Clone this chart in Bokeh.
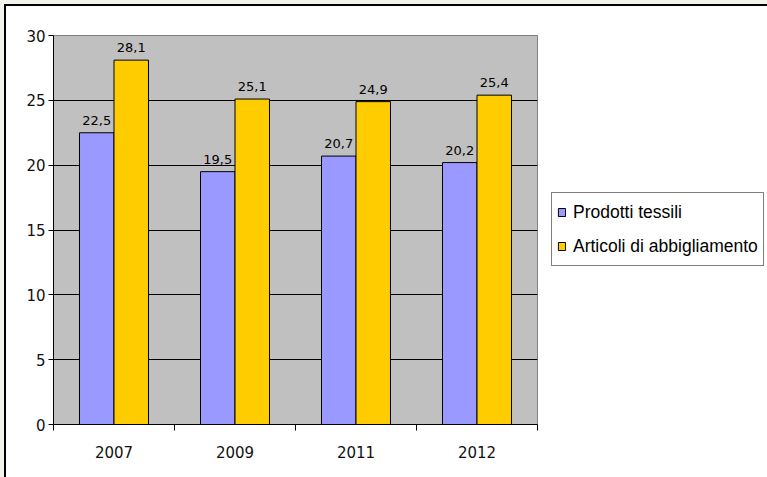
from bokeh.plotting import figure
from bokeh.models import (ColumnDataSource, FixedTicker, LabelSet, Legend, LegendItem,
                          Range1d, Column, Row)
from bokeh.core.properties import value
from bokeh.embed import file_html
from bokeh.resources import INLINE

# ---- data ----
years = ["2007", "2009", "2011", "2012"]
tessili = [22.5, 19.5, 20.7, 20.2]
abbigliamento = [28.1, 25.1, 24.9, 25.4]
series_names = ["Prodotti tessili", "Articoli di abbigliamento"]
y_ticks = [0, 5, 10, 15, 20, 25, 30]

BLUE = "#9999FF"
YELLOW = "#FFCC00"
BAR_W = 0.285
OFF = 0.1425

centers = [i + 0.5 for i in range(len(years))]
bounds = list(range(len(years) + 1))

def fmt(v):
    return f"{v:.1f}".replace(".", ",")

src_a = ColumnDataSource(dict(x=[c - OFF for c in centers], top=tessili,
                              lab=[fmt(v) for v in tessili]))
src_b = ColumnDataSource(dict(x=[c + OFF for c in centers], top=abbigliamento,
                              lab=[fmt(v) for v in abbigliamento]))

H = 471
p = figure(width=532, height=H, output_backend="svg", toolbar_location=None,
           x_range=Range1d(0, len(years)), y_range=Range1d(0, 30),
           min_border_left=47, min_border_top=29, min_border_right=1,
           min_border_bottom=53, background_fill_color="#C0C0C0",
           border_fill_color="white", outline_line_color="#808080",
           outline_line_width=1)
p.frame_align = False

r1 = p.vbar(x="x", top="top", width=BAR_W, bottom=0, source=src_a,
            fill_color=BLUE, line_color="black", line_width=1)
r2 = p.vbar(x="x", top="top", width=BAR_W, bottom=0, source=src_b,
            fill_color=YELLOW, line_color="black", line_width=1)

for s in (src_a, src_b):
    p.add_layout(LabelSet(x="x", y="top", text="lab", source=s, y_offset=8,
                          text_align="center", text_baseline="alphabetic",
                          text_font=value("DejaVu Sans"), text_font_size=value("13px"),
                          text_color="black"))

# grid
p.xgrid.visible = False
p.ygrid.ticker = FixedTicker(ticks=y_ticks[1:-1])
p.ygrid.grid_line_color = "black"
p.ygrid.grid_line_width = 1

# y axis
ya = p.yaxis[0]
ya.ticker = FixedTicker(ticks=y_ticks)
ya.major_tick_out = 5
ya.major_tick_in = 0
ya.minor_tick_out = 0
ya.minor_tick_in = 0
ya.axis_line_color = "black"
ya.major_tick_line_color = "black"
ya.major_label_text_font = "DejaVu Sans"
ya.major_label_text_font_size = "15px"
ya.major_label_text_color = "#111111"
ya.major_label_standoff = 3

# x axis
xa = p.xaxis[0]
xa.ticker = FixedTicker(ticks=centers, minor_ticks=bounds)
xa.major_label_overrides = {c: y for c, y in zip(centers, years)}
xa.major_tick_out = 0
xa.major_tick_in = 0
xa.minor_tick_out = 6
xa.minor_tick_in = 0
xa.minor_tick_line_color = "black"
xa.axis_line_color = "black"
xa.major_label_text_font = "DejaVu Sans"
xa.major_label_text_font_size = "15px"
xa.major_label_text_color = "#111111"
xa.major_label_standoff = 15

# legend panel (separate figure to the right of the plot area)
p2 = figure(width=229, height=H, output_backend="svg", toolbar_location=None,
            x_range=Range1d(0, 1), y_range=Range1d(0, 1),
            x_axis_location=None, y_axis_location=None, min_border=0,
            outline_line_color=None, background_fill_color="white",
            border_fill_color="white")
p2.frame_align = False
p2.grid.visible = False
g1 = p2.vbar(x=[5], top=[1], width=0.1,
             fill_color=BLUE, line_color="black", line_width=1)
g2 = p2.vbar(x=[5], top=[1], width=0.1,
             fill_color=YELLOW, line_color="black", line_width=1)

legend = Legend(items=[LegendItem(label=series_names[0], renderers=[g1]),
                       LegendItem(label=series_names[1], renderers=[g2])],
                location=(13, 211), orientation="vertical",
                label_text_font="Liberation Sans", label_text_font_size="17.5px",
                label_text_color="black",
                glyph_width=9, glyph_height=10, label_height=28, label_standoff=7,
                spacing=6, padding=5, margin=0,
                border_line_color="black", border_line_width=1,
                background_fill_color="white", background_fill_alpha=1)
p2.add_layout(legend, "center")

pair = Row(children=[p, p2])
mid = Column(children=[pair], margin=(2, 0, 0, 2), styles={"background-color": "white"})
inner = Column(children=[mid], margin=(4, 0, 0, 4), styles={"background-color": "black"})
outer = Column(children=[inner], styles={"background-color": "#F4F4EF"},
               width=767, height=477)

open("out.html", "w").write(file_html(outer, INLINE))
